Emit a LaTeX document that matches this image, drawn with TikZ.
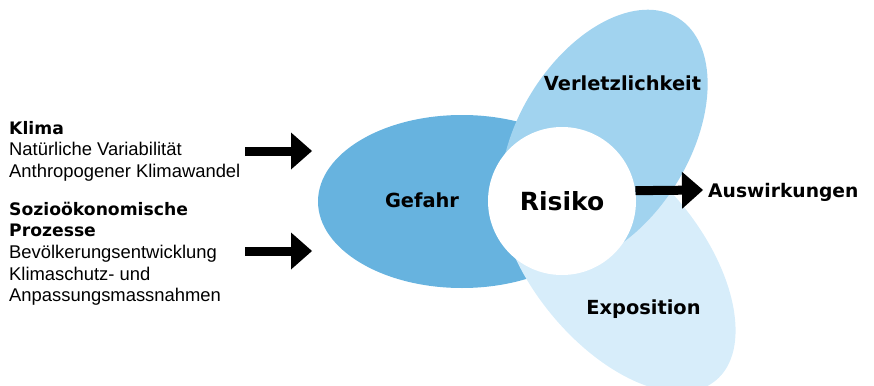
\documentclass[tikz,border=0pt]{standalone}
\usepackage{fontspec}
\usepackage{tikz}
\usetikzlibrary{arrows.meta}
\setmainfont{Liberation Sans}
\newfontfamily\heavyfont{DejaVu Sans}
\newcommand{\heavy}[1]{{\heavyfont\bfseries\fontsize{17.2}{21.7}\selectfont #1}}
\definecolor{gefahrblue}{RGB}{103,179,223}
\definecolor{verlblue}{RGB}{161,211,239}
\definecolor{exposblue}{RGB}{215,237,250}

\begin{document}
\begin{tikzpicture}[x=1pt,y=-1pt,
		txt/.style={inner sep=0pt,font=\fontsize{18.4}{21.7}\selectfont},
		lbl/.style={inner sep=0pt,font=\heavyfont\bfseries\fontsize{19.4}{22}\selectfont},
		bigarrow/.style={line width=9pt,-{Triangle[length=21pt,width=37pt,line width=0pt]}}]
	\useasboundingbox (0,0) rectangle (874,385);
	% the three petals
	\begin{scope}
		\clip (0,0) rectangle (874,385);
		\fill [gefahrblue] (462,201.5) ellipse [x radius=144pt, y radius=86.5pt];
		\fill [exposblue, rotate around={-50.8:(616.6,259.4)}] (616.6,259.4) ellipse [x radius=156.5pt, y radius=85.3pt];
		\fill [verlblue, rotate around={58.5:(604,138)}] (604,138) ellipse [x radius=141pt, y radius=85.5pt];
	\end{scope}
	\draw (562,201) node [circle,fill=white,minimum size=148pt,inner sep=0pt,font=\heavyfont\bfseries\fontsize{25}{28}\selectfont] (risiko) {Risiko};
	\draw (422,207) node [lbl,anchor=base] (gefahr) {Gefahr};
	\draw (622.5,90.7) node [lbl,anchor=base] (verl) {Verletzlichkeit};
	\draw (643.5,314) node [lbl,anchor=base] (expos) {Exposition};
	\draw (708,197.5) node [lbl,anchor=base west,font=\heavyfont\bfseries\fontsize{18.7}{22}\selectfont] (ausw) {Auswirkungen};
	% drivers on the left
	\draw (9,134) node [txt,anchor=base west] (klima) {\begin{tabular}[t]{@{}l@{}} \heavy{Klima} \\ Natürliche Variabilität \\ Anthropogener Klimawandel \end{tabular}};
	\draw (9,215) node [txt,anchor=base west] (sozio) {\begin{tabular}[t]{@{}l@{}} \heavy{Sozioökonomische} \\ \heavy{Prozesse} \\ Bevölkerungsentwicklung \\ Klimaschutz- und \\ Anpassungsmassnahmen \end{tabular}};
	\coordinate (klimastart) at (245,151);
	\coordinate (klimatip) at (312,151);
	\coordinate (soziostart) at (245,251);
	\coordinate (soziotip) at (312,251);
	\coordinate (auswtip) at (703,190);
	\path[bigarrow]
		(klimastart) edge (klimatip)
		(soziostart) edge (soziotip)
		(risiko.8.5) edge (auswtip);
\end{tikzpicture}
\end{document}
